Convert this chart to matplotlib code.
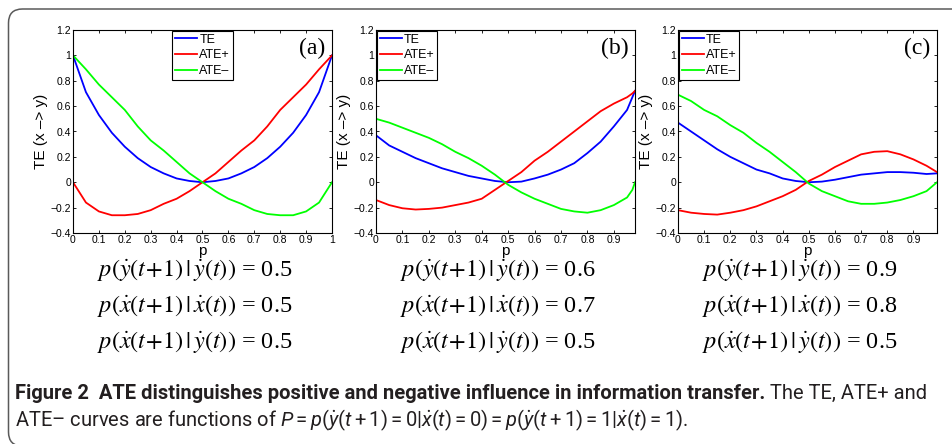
import matplotlib
matplotlib.use("Agg")
import matplotlib.pyplot as plt
from matplotlib.patches import FancyBboxPatch
from matplotlib.ticker import FuncFormatter

# ---- data ----
p_a = [0.0, 0.05, 0.1, 0.15, 0.2, 0.25, 0.3, 0.35, 0.4, 0.45, 0.5,
       0.55, 0.6, 0.65, 0.7, 0.75, 0.8, 0.85, 0.9, 0.95, 1.0]
te_a = [1.0, 0.71, 0.53, 0.39, 0.28, 0.19, 0.12, 0.07, 0.03, 0.01, 0.0,
        0.01, 0.03, 0.07, 0.12, 0.19, 0.28, 0.39, 0.53, 0.71, 1.0]
atep_a = [0.0, -0.16, -0.23, -0.26, -0.26, -0.25, -0.22, -0.17, -0.13, -0.07, 0.0,
          0.07, 0.16, 0.25, 0.33, 0.44, 0.57, 0.67, 0.77, 0.89, 1.0]
aten_a = [1.0, 0.89, 0.77, 0.67, 0.57, 0.44, 0.33, 0.25, 0.16, 0.07, 0.0,
          -0.07, -0.13, -0.17, -0.22, -0.25, -0.26, -0.26, -0.23, -0.16, 0.0]

p_b = [0.0, 0.05, 0.1, 0.15, 0.2, 0.25, 0.3, 0.35, 0.4, 0.45, 0.5,
       0.55, 0.6, 0.65, 0.7, 0.75, 0.8, 0.85, 0.9, 0.95, 0.97, 0.98]
te_b = [0.37, 0.29, 0.24, 0.19, 0.15, 0.11, 0.08, 0.05, 0.03, 0.01, 0.0,
        0.005, 0.03, 0.06, 0.10, 0.15, 0.23, 0.32, 0.44, 0.57, 0.67, 0.72]
atep_b = [-0.14, -0.18, -0.205, -0.215, -0.21, -0.20, -0.18, -0.16, -0.13, -0.06, 0.01,
          0.08, 0.17, 0.24, 0.32, 0.40, 0.48, 0.56, 0.62, 0.67, 0.70, 0.72]
aten_b = [0.50, 0.47, 0.43, 0.39, 0.35, 0.30, 0.24, 0.19, 0.13, 0.06, -0.02,
          -0.08, -0.13, -0.17, -0.21, -0.23, -0.24, -0.22, -0.18, -0.12, -0.06, 0.0]

p_c = [0.0, 0.05, 0.1, 0.15, 0.2, 0.25, 0.3, 0.35, 0.4, 0.45, 0.5,
       0.55, 0.6, 0.65, 0.7, 0.75, 0.8, 0.85, 0.9, 0.95, 0.99]
te_c = [0.47, 0.40, 0.33, 0.26, 0.20, 0.15, 0.10, 0.07, 0.03, 0.01, 0.0,
        0.005, 0.02, 0.04, 0.06, 0.07, 0.08, 0.08, 0.075, 0.065, 0.07]
atep_c = [-0.22, -0.24, -0.25, -0.255, -0.24, -0.22, -0.19, -0.15, -0.11, -0.06, 0.01,
          0.06, 0.12, 0.17, 0.22, 0.24, 0.245, 0.22, 0.18, 0.13, 0.08]
aten_c = [0.69, 0.64, 0.57, 0.52, 0.45, 0.39, 0.31, 0.24, 0.16, 0.08, -0.01,
          -0.07, -0.11, -0.15, -0.17, -0.17, -0.16, -0.14, -0.11, -0.07, 0.0]

panel_labels = ["(a)", "(b)", "(c)"]
series_names = ["TE", "ATE+", "ATE\u2013"]
xmax = [1.0, 0.98, 0.99]
cond_y = ["0.5", "0.6", "0.9"]
cond_x = ["0.5", "0.7", "0.8"]
cond_xy = ["0.5", "0.5", "0.5"]

panels = [(p_a, te_a, atep_a, aten_a), (p_b, te_b, atep_b, aten_b), (p_c, te_c, atep_c, aten_c)]
colors = ["#0000ff", "#ff0000", "#00ff00"]

plt.rcParams["mathtext.fontset"] = "custom"
plt.rcParams["mathtext.rm"] = "Roboto"
plt.rcParams["mathtext.it"] = "Roboto:italic"

W, H = 953, 444
fig = plt.figure(figsize=(W / 100, H / 100), dpi=100)

# caption box outline (top and left edges visible)
box = FancyBboxPatch((0.085, -0.02), 10.0, 4.44 - 0.09 + 0.02,
                     boxstyle="round,pad=0,rounding_size=0.14",
                     transform=fig.dpi_scale_trans, fill=False,
                     ec="#5a5a5a", lw=1.1)
fig.add_artist(box)

lefts = [73, 376, 678]
ax_w, ax_top, ax_bot = 259, 30, 233
fmt = FuncFormatter(lambda v, pos: ("%g" % round(v, 2)).replace("-", "\u2212"))

for i, (px, te, atp, atn) in enumerate(panels):
    ax = fig.add_axes([lefts[i] / W, (H - ax_bot) / H, ax_w / W, (ax_bot - ax_top) / H])
    for ys, c, name in zip([te, atp, atn], colors, series_names):
        ax.plot(px, ys, color=c, lw=1.3, label=name)
    ax.set_xlim(0, xmax[i])
    ax.set_ylim(-0.4, 1.2)
    ax.set_xticks([t / 10 for t in range(11)] if i == 0 else [t / 10 for t in range(10)])
    ax.set_yticks([-0.4 + 0.2 * k for k in range(9)])
    ax.xaxis.set_major_formatter(fmt)
    ax.yaxis.set_major_formatter(fmt)
    ax.tick_params(direction="in", top=True, right=True, length=2.5, width=0.6,
                   labelsize=7.5, pad=1.5)
    for lab in ax.get_xticklabels() + ax.get_yticklabels():
        lab.set_family("Liberation Sans")
    for s in ax.spines.values():
        s.set_linewidth(0.8)
    ax.set_xlabel("p", family="Liberation Sans", fontsize=11, labelpad=-1)
    ax.set_ylabel("TE (x \u2013> y)", family="Liberation Sans", fontsize=11, labelpad=2)
    ax.text(0.975, 0.91, panel_labels[i], transform=ax.transAxes, ha="right", va="center",
            family="Liberation Serif", fontsize=17)
    legprops = {"family": "Liberation Sans", "size": 9}
    if i == 0:
        leg = ax.legend(loc="upper center", bbox_to_anchor=(0.5, 1.0),
                        fancybox=False, edgecolor="black", handlelength=1.8,
                        borderpad=0.2, labelspacing=0.3, handletextpad=0.15,
                        borderaxespad=0.1, prop=legprops)
    else:
        leg = ax.legend(loc="upper left", fancybox=False, edgecolor="black",
                        handlelength=1.8, borderpad=0.2, labelspacing=0.3,
                        handletextpad=0.15, borderaxespad=0.1, prop=legprops)
    leg.get_frame().set_linewidth(0.8)
    leg.get_frame().set_alpha(1)

    cx = (lefts[i] + ax_w / 2 - 8) / W
    lines = [r"$p(\dot{y}(t\!+\!1)\,|\,\dot{y}(t))$ = " + cond_y[i],
             r"$p(\dot{x}(t\!+\!1)\,|\,\dot{x}(t))$ = " + cond_x[i],
             r"$p(\dot{x}(t\!+\!1)\,|\,\dot{y}(t))$ = " + cond_xy[i]]
    for k, s in enumerate(lines):
        t = fig.text(cx, 1 - (270 + 36 * k) / H, s, ha="center", va="center",
                     fontsize=17.5, family="Liberation Serif")
        t.set_math_fontfamily("stix")

# caption
cap_size = 14.5
bold = fig.text(15 / W, 1 - 399 / H,
                "Figure 2  ATE distinguishes positive and negative influence in information transfer.",
                fontsize=cap_size, weight="bold", family="Roboto", color="#231f20", va="baseline")
fig.canvas.draw()
r = fig.canvas.get_renderer()
bb = bold.get_window_extent(r)
fig.text(bb.x1 / W, 1 - 399 / H, " The TE, ATE+ and", fontsize=cap_size, family="Roboto",
         color="#231f20", va="baseline")
fig.text(15 / W, 1 - 426 / H,
         "ATE\u2013 curves are functions of "
         r"$P = p(\dot{y}(t + 1) = 0|\dot{x}(t) = 0) = p(\dot{y}(t + 1) = 1|\dot{x}(t) = 1)$.",
         fontsize=cap_size, family="Roboto", color="#231f20", va="baseline")

fig.savefig("out.png", dpi=100)
